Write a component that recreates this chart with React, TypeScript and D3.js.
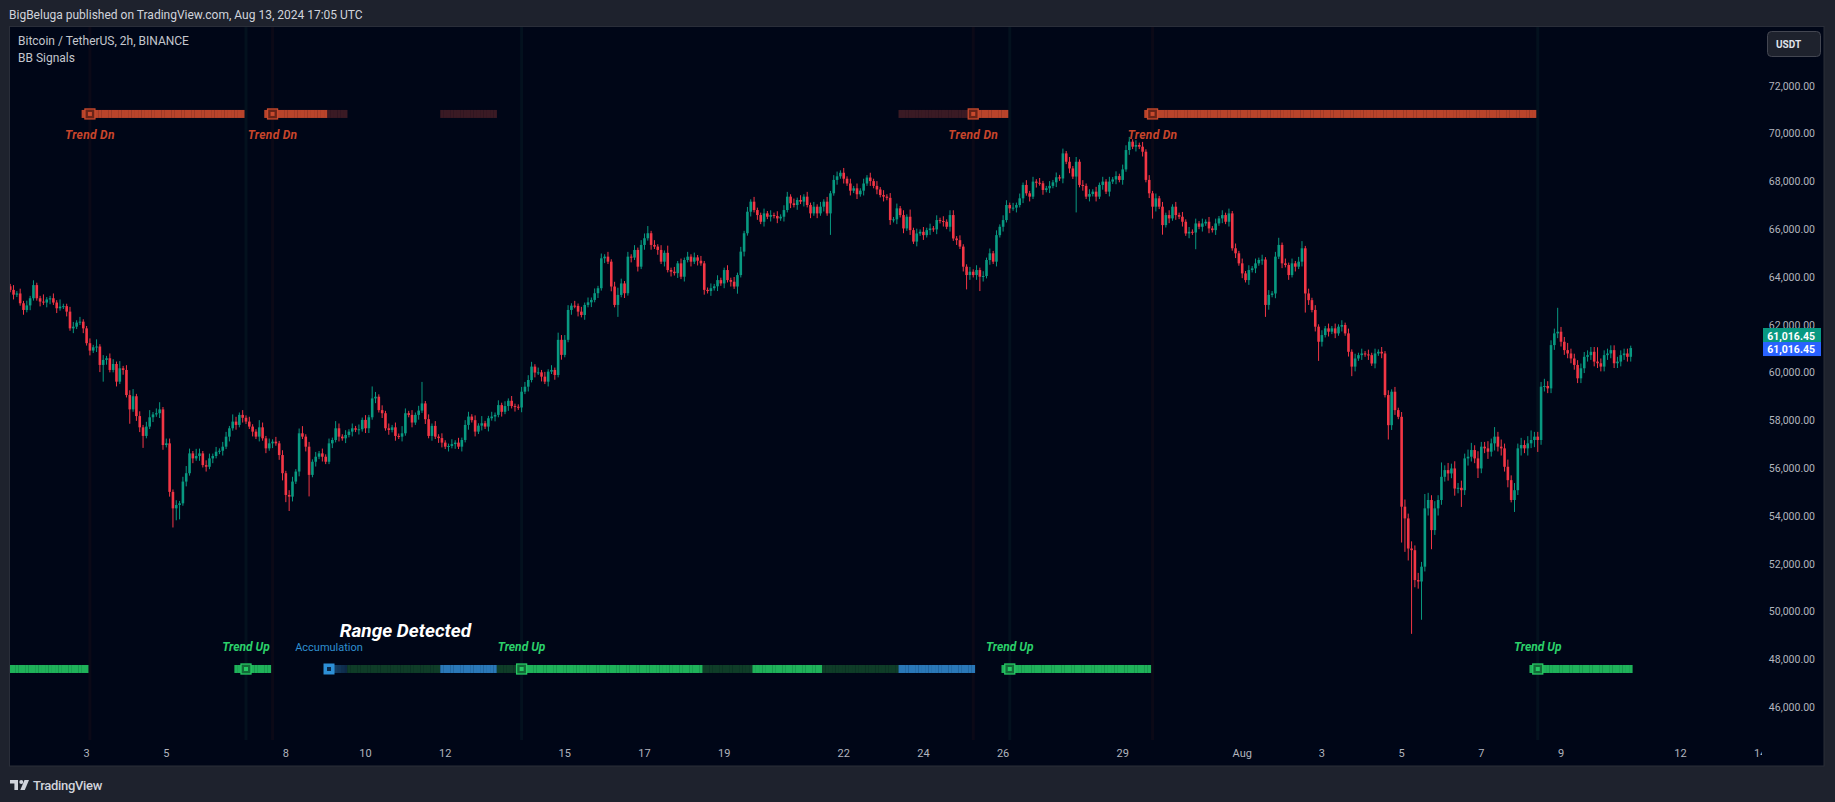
import React from "react";
import * as d3 from "d3";

// BTCUSDT 2h candles, Jul 1 02:00 UTC -> Aug 10 18:00 UTC (prices in thousands)
const firstOpen = 63.6;
const closes = [
  63.45, 63.25, 63.3, 62.89, 62.61, 62.8, 63.1, 63.65, 63.1, 62.96, 62.92, 63.05,
  63.1, 62.92, 62.68, 62.75, 62.77, 62.54, 61.84, 61.91, 62.08, 62.12, 61.84, 61.22,
  60.91, 61.05, 61.08, 60.31, 60.52, 60.59, 60.1, 60.35, 59.61, 60.17, 60.1, 59.05,
  58.45, 59.0, 58.17, 57.7, 57.34, 57.73, 58.12, 58.24, 58.29, 58.45, 56.96, 57.03,
  55.0, 54.31, 54.45, 54.52, 55.43, 55.78, 56.61, 56.4, 56.5, 56.61, 56.12, 56.05,
  56.4, 56.5, 56.68, 56.72, 56.89, 57.31, 57.66, 57.94, 57.8, 58.22, 58.1, 57.94,
  57.73, 57.52, 57.31, 57.7, 57.24, 56.82, 57.03, 57.1, 57.03, 56.54, 55.78, 54.87,
  54.8, 55.43, 55.85, 57.45, 57.31, 56.89, 55.71, 56.26, 56.47, 56.61, 56.47, 56.26,
  57.03, 57.17, 57.66, 57.31, 57.24, 57.38, 57.52, 57.66, 57.6, 57.62, 58.01, 57.66,
  58.12, 58.91, 58.98, 58.42, 58.29, 57.66, 57.59, 57.7, 57.34, 57.31, 57.45, 58.29,
  58.22, 57.9, 58.22, 58.4, 58.7, 58.04, 57.34, 57.76, 57.31, 57.25, 57.06, 56.89,
  56.92, 57.0, 57.06, 56.89, 57.17, 57.8, 58.15, 58.0, 57.52, 57.77, 57.87, 57.73,
  58.08, 58.15, 58.22, 58.63, 58.35, 58.59, 58.81, 58.59, 58.56, 58.53, 59.19, 59.4,
  59.68, 60.24, 59.99, 60.0, 59.82, 59.61, 60.03, 60.1, 59.89, 61.36, 60.73, 61.36,
  62.61, 62.79, 62.78, 62.54, 62.4, 62.82, 62.93, 63.03, 63.31, 63.52, 64.77, 64.84,
  64.63, 63.59, 62.82, 63.24, 63.72, 63.31, 64.84, 64.8, 65.12, 64.42, 65.33, 65.61,
  65.82, 65.33, 65.26, 65.12, 64.63, 65.0, 64.28, 64.21, 64.15, 64.56, 64.0, 64.7,
  64.84, 64.63, 64.81, 64.67, 64.56, 63.45, 63.4, 63.52, 63.6, 63.86, 63.72, 64.28,
  63.86, 63.79, 63.59, 64.07, 65.05, 65.82, 66.72, 67.14, 66.79, 66.58, 66.3, 66.65,
  66.51, 66.58, 66.54, 66.44, 66.51, 66.79, 67.35, 67.07, 67.0, 67.21, 67.14, 67.35,
  67.0, 66.65, 66.93, 66.65, 66.93, 67.14, 66.65, 67.49, 68.05, 68.2, 68.35, 68.1,
  67.9, 67.6, 67.7, 67.45, 67.6, 67.9, 68.15, 68.0, 67.8, 67.65, 67.42, 67.35,
  67.3, 66.37, 66.4, 66.86, 66.58, 66.02, 66.51, 65.95, 65.47, 65.81, 65.88, 65.74,
  65.95, 66.02, 65.98, 66.37, 66.33, 66.3, 66.09, 66.58, 65.6, 65.53, 65.26, 64.42,
  64.07, 64.21, 64.07, 64.28, 64.0, 64.03, 64.7, 64.98, 64.63, 65.74, 66.09, 66.37,
  67.0, 66.86, 66.89, 67.0, 67.28, 67.84, 67.49, 67.35, 67.98, 67.93, 67.91, 67.63,
  67.7, 67.8, 67.95, 68.16, 68.11, 69.16, 68.81, 68.53, 68.19, 68.81, 67.84, 67.8,
  67.35, 67.46, 67.56, 67.35, 67.84, 67.98, 67.56, 67.98, 68.07, 68.21, 68.05, 68.49,
  69.3, 69.65, 69.44, 69.51, 69.44, 69.23, 68.05, 67.49, 66.93, 67.28, 66.93, 66.16,
  66.58, 66.44, 66.93, 66.58, 66.51, 66.3, 65.81, 65.88, 65.85, 66.23, 66.09, 66.23,
  66.3, 66.02, 65.95, 66.23, 66.44, 66.58, 66.3, 66.65, 65.19, 64.98, 64.56, 64.14,
  63.86, 64.28, 64.35, 64.56, 64.7, 64.72, 62.82, 63.24, 63.3, 64.84, 65.33, 64.56,
  64.49, 64.07, 64.56, 64.42, 64.63, 65.19, 63.3, 63.02, 62.61, 61.91, 61.28, 61.56,
  61.84, 61.7, 61.84, 61.63, 61.91, 61.98, 61.63, 60.86, 60.24, 60.58, 60.72, 60.79,
  60.75, 60.72, 60.37, 60.79, 60.86, 60.79, 59.05, 57.79, 59.19, 58.42, 58.14, 54.38,
  53.89, 52.63, 52.56, 51.31, 51.25, 51.87, 54.31, 54.66, 53.4, 54.31, 54.66, 55.63,
  55.91, 55.77, 55.98, 55.14, 55.17, 55.07, 56.4, 56.47, 56.75, 56.4, 55.98, 56.89,
  56.82, 56.68, 57.03, 57.31, 56.89, 56.82, 56.05, 55.49, 54.66, 55.07, 56.82, 56.96,
  56.82, 57.03, 57.17, 57.31, 57.17, 59.4, 59.43, 59.33, 61.14, 61.63, 61.7, 61.28,
  60.93, 60.79, 60.58, 60.31, 59.75, 60.17, 60.65, 60.72, 60.86, 60.45, 60.38, 60.24,
  60.72, 60.79, 60.93, 60.38, 60.45, 60.72, 60.79, 60.65, 61.01645,
];
// wick beyond the body, in hundreds of USDT
const wickHi = [
  1, 2, 1, 2, 1, 2, 1, 2, 1, 1, 3, 1,
  1, 2, 1, 3, 1, 1, 2, 2, 1, 2, 1, 1,
  2, 1, 3, 1, 2, 1, 2, 2, 1, 3, 1, 2,
  2, 3, 1, 2, 1, 2, 3, 1, 2, 3, 1, 2,
  2, 1, 2, 1, 2, 3, 2, 1, 3, 2, 1, 2,
  2, 1, 2, 1, 2, 2, 1, 3, 2, 1, 2, 1,
  2, 1, 1, 3, 2, 1, 2, 1, 2, 1, 2, 1,
  2, 2, 1, 2, 3, 1, 2, 1, 2, 1, 2, 1,
  2, 1, 3, 2, 1, 2, 1, 2, 1, 2, 1, 2,
  1, 5, 2, 1, 2, 1, 2, 1, 2, 1, 3, 2,
  1, 2, 1, 2, 9, 1, 2, 1, 2, 1, 2, 1,
  1, 2, 1, 2, 1, 2, 2, 1, 2, 1, 3, 1,
  1, 2, 1, 2, 1, 2, 1, 2, 1, 1, 2, 2,
  2, 2, 1, 2, 1, 2, 1, 2, 1, 3, 2, 2,
  2, 1, 2, 1, 2, 1, 2, 1, 2, 1, 2, 1,
  2, 1, 2, 3, 2, 1, 2, 1, 2, 1, 2, 2,
  3, 1, 2, 1, 2, 1, 3, 1, 2, 1, 2, 1,
  2, 1, 2, 1, 2, 1, 1, 2, 1, 2, 1, 1,
  2, 1, 2, 1, 2, 1, 2, 1, 2, 1, 1, 2,
  1, 2, 1, 2, 1, 2, 2, 1, 2, 1, 2, 1,
  2, 1, 2, 1, 2, 1, 2, 1, 2, 2, 1, 2,
  1, 2, 1, 2, 1, 2, 1, 2, 1, 2, 1, 2,
  1, 2, 1, 2, 1, 2, 1, 3, 1, 2, 1, 2,
  1, 2, 1, 2, 1, 2, 1, 2, 2, 1, 2, 1,
  1, 2, 1, 2, 1, 2, 1, 2, 1, 2, 1, 2,
  2, 1, 2, 1, 2, 1, 2, 1, 2, 1, 2, 1,
  1, 2, 1, 2, 1, 2, 1, 2, 1, 2, 1, 2,
  1, 2, 1, 2, 1, 2, 1, 2, 1, 2, 1, 2,
  2, 2, 1, 2, 1, 2, 1, 2, 1, 2, 1, 2,
  1, 2, 1, 2, 1, 2, 1, 2, 1, 2, 1, 2,
  1, 2, 1, 2, 1, 2, 1, 2, 1, 2, 1, 2,
  1, 2, 1, 2, 1, 2, 1, 2, 1, 2, 3, 1,
  2, 1, 2, 1, 2, 3, 1, 2, 1, 2, 1, 2,
  1, 2, 1, 2, 1, 2, 1, 2, 1, 2, 1, 2,
  1, 2, 1, 2, 1, 2, 1, 2, 1, 2, 1, 2,
  3, 2, 3, 2, 3, 2, 6, 3, 2, 3, 2, 6,
  2, 3, 2, 3, 2, 3, 2, 3, 3, 2, 3, 2,
  2, 3, 2, 4, 2, 3, 2, 3, 2, 3, 2, 3,
  2, 3, 4, 2, 2, 2, 3, 2, 2, 2, 10, 2,
  2, 3, 2, 2, 2, 2, 2, 2, 2, 2, 6, 2,
  2, 2, 2, 2, 2, 2, 2, 2, 1,
];
const wickLo = [
  1, 2, 1, 1, 2, 1, 2, 1, 1, 2, 1, 2,
  2, 1, 2, 1, 1, 2, 1, 2, 1, 1, 2, 1,
  2, 1, 2, 3, 7, 2, 1, 1, 2, 1, 2, 1,
  6, 1, 2, 2, 5, 1, 1, 2, 1, 2, 2, 1,
  2, 8, 5, 6, 1, 2, 1, 2, 1, 2, 1, 2,
  1, 2, 1, 1, 2, 1, 2, 1, 2, 1, 2, 1,
  1, 2, 1, 2, 1, 2, 1, 2, 1, 2, 3, 3,
  6, 2, 1, 2, 1, 2, 9, 1, 2, 1, 2, 1,
  1, 2, 1, 2, 1, 2, 1, 2, 1, 2, 1, 2,
  2, 1, 2, 1, 2, 1, 2, 1, 2, 1, 2, 1,
  1, 2, 1, 2, 1, 2, 1, 2, 1, 2, 2, 1,
  2, 1, 2, 1, 2, 1, 2, 1, 2, 1, 2, 1,
  2, 1, 2, 1, 2, 1, 2, 1, 2, 1, 2, 1,
  2, 1, 2, 1, 2, 1, 2, 1, 2, 1, 2, 1,
  1, 2, 1, 2, 1, 2, 1, 2, 1, 2, 1, 2,
  1, 2, 1, 5, 1, 2, 1, 2, 1, 2, 1, 2,
  1, 2, 1, 2, 1, 2, 1, 2, 1, 2, 1, 2,
  1, 2, 1, 2, 1, 2, 1, 2, 1, 2, 1, 2,
  1, 2, 1, 3, 1, 2, 1, 2, 1, 2, 1, 2,
  1, 2, 1, 2, 1, 2, 1, 2, 1, 2, 1, 2,
  1, 2, 1, 2, 1, 2, 1, 9, 1, 2, 1, 2,
  1, 2, 1, 2, 1, 2, 1, 2, 1, 2, 1, 2,
  1, 2, 1, 2, 1, 2, 1, 2, 1, 2, 1, 2,
  1, 2, 1, 2, 1, 2, 1, 2, 1, 2, 1, 2,
  6, 2, 1, 2, 6, 2, 1, 2, 1, 2, 1, 2,
  1, 2, 1, 2, 1, 2, 1, 2, 1, 2, 1, 2,
  1, 2, 1, 2, 1, 2, 1, 2, 1, 15, 1, 2,
  1, 2, 1, 2, 1, 2, 1, 2, 1, 2, 1, 2,
  1, 2, 1, 2, 1, 2, 1, 2, 5, 2, 1, 4,
  1, 2, 1, 2, 1, 2, 1, 2, 1, 7, 1, 2,
  1, 2, 1, 2, 1, 2, 1, 2, 1, 2, 1, 2,
  1, 2, 1, 2, 1, 2, 5, 2, 1, 2, 1, 2,
  1, 2, 1, 2, 1, 2, 8, 2, 1, 2, 8, 2,
  1, 2, 1, 2, 1, 2, 1, 2, 4, 2, 1, 2,
  1, 2, 1, 2, 1, 2, 1, 6, 2, 2, 1, 15,
  14, 5, 35, 3, 3, 16, 2, 3, 8, 2, 3, 2,
  2, 3, 2, 3, 2, 7, 2, 3, 2, 2, 4, 2,
  2, 3, 2, 3, 2, 3, 2, 3, 1, 5, 2, 3,
  2, 3, 2, 3, 5, 2, 2, 2, 2, 2, 2, 2,
  2, 2, 2, 2, 2, 2, 2, 2, 2, 2, 2, 2,
  2, 2, 2, 2, 2, 2, 2, 2, 2,
];

const priceTicks = [46000, 48000, 50000, 52000, 54000, 56000, 58000, 60000, 62000, 64000, 66000, 68000, 70000, 72000];
const tickDates = ["2024-07-03", "2024-07-05", "2024-07-08", "2024-07-10", "2024-07-12", "2024-07-15", "2024-07-17", "2024-07-19", "2024-07-22", "2024-07-24", "2024-07-26", "2024-07-29", "2024-08-01", "2024-08-03", "2024-08-05", "2024-08-07", "2024-08-09", "2024-08-12", "2024-08-14"];
const tickLabels = ["3", "5", "8", "10", "12", "15", "17", "19", "22", "24", "26", "29", "Aug", "3", "5", "7", "9", "12", "14"];

// BB Signals bands: [from candle, to candle, state]
const topLevel = 70810;
const bottomLevel = 47590;
const topSegments: [number, number, string][] = [
  [22, 70, "on"], [77, 95, "on"], [96, 101, "fade"], [130, 146, "fade"],
  [268, 289, "fade"], [290, 300, "on"], [342, 459, "on"],
];
const bottomSegments: [number, number, string][] = [
  [0, 23, "green"], [68, 78, "green"], [95, 101, "blueFade"], [102, 129, "fade"],
  [130, 146, "blue"], [147, 152, "fade"], [153, 208, "green"], [209, 223, "fade"],
  [224, 244, "green"], [245, 267, "fade"], [268, 290, "blue"], [299, 343, "green"],
  [458, 488, "green"],
];
const trendDnAt = [24, 79, 290, 344];
const trendUpAt = [71, 154, 301, 460];
const accumulationAt = 96;
const rangeLabelAt = 119;
const lastPrice = 61016.45;

const W = 1835;
const H = 802;
const PANE = { x: 9.5, y: 26.5, r: 1824, b: 766 };
const PLOT = { l: 10, r: 1762, t: 27, b: 740 };
const UP = "#089981";
const DOWN = "#f23645";
const FONT = "Roboto, 'Noto Sans', sans-serif";
const step = 3.32;

const segColor: Record<string, string> = {
  on: "#b9442b",
  fade: "#3a1a24",
  green: "#1fb25a",
  blue: "#2a78b8",
  blueFade: "#1f5a8a",
};
const bottomFade = "#0f3d28";

export default function App() {
  const t0 = Date.UTC(2024, 6, 1, 2);
  const x = d3.scaleUtc()
    .domain([new Date(Date.UTC(2024, 6, 3)), new Date(Date.UTC(2024, 7, 9))])
    .range([86.6, 1561]);
  const xi = (i: number) => x(new Date(t0 + i * 7200000));
  const y = d3.scaleLinear().domain([46000, 72000]).range([707, 85.5]);
  const fmt = d3.format(",.2f");

  const candles = closes.map((c, i) => {
    const o = (i === 0 ? firstOpen : closes[i - 1]) * 1000;
    const cl = c * 1000;
    const hi = Math.max(o, cl) + wickHi[i] * 100;
    const lo = Math.min(o, cl) - wickLo[i] * 100;
    return { i, o, c: cl, hi, lo };
  });

  const bandRects = (segs: [number, number, string][], level: number, key: string) =>
    segs.flatMap(([a, b, s], k) =>
      d3.range(a, b + 1).map((i) => {
        const fill = s === "fade" && key === "bottom" ? bottomFade : segColor[s];
        const op = s === "blueFade" ? 0.85 - ((i - a) / (b - a + 1)) * 0.5 : 1;
        return (
          <rect key={`${key}-${k}-${i}`} x={xi(i) - step / 2} y={y(level) - 4}
            width={step + 0.2} height={8} fill={fill} opacity={op} />
        );
      })
    );

  const marker = (i: number, level: number, color: string, inner: string, k: string) => (
    <g key={k}>
      <rect x={xi(i) - 5} y={y(level) - 5} width={10} height={10} fill={inner} stroke={color} strokeWidth={1.3} />
      <rect x={xi(i) - 2} y={y(level) - 2} width={4} height={4} fill={color} />
    </g>
  );

  return (
    <svg width={W} height={H} style={{ position: "absolute", left: 0, top: 0, display: "block" }}>
      <rect width={W} height={H} fill="#1e222d" />
      <text x={9} y={19} fontFamily={FONT} fontSize={12} fill="#d1d4dc">
        BigBeluga published on TradingView.com, Aug 13, 2024 17:05 UTC
      </text>
      <rect x={PANE.x} y={PANE.y} width={PANE.r - PANE.x} height={PANE.b - PANE.y} fill="#000617" stroke="#2a2e39" />
      <defs>
        <clipPath id="plot">
          <rect x={PLOT.l} y={PLOT.t} width={PLOT.r - PLOT.l} height={PLOT.b - PLOT.t} />
        </clipPath>
        <clipPath id="taxis">
          <rect x={PLOT.l} y={PLOT.b} width={PLOT.r - PLOT.l} height={PANE.b - PLOT.b} />
        </clipPath>
      </defs>

      <g clipPath="url(#plot)">
        {trendDnAt.map((i) => (
          <rect key={`vd${i}`} x={xi(i) - 1.5} y={PLOT.t} width={3} height={PLOT.b - PLOT.t} fill="#b4402a" opacity={0.06} />
        ))}
        {trendUpAt.map((i) => (
          <rect key={`vu${i}`} x={xi(i) - 1.5} y={PLOT.t} width={3} height={PLOT.b - PLOT.t} fill="#2aa87a" opacity={0.07} />
        ))}

        {bandRects(topSegments, topLevel, "top")}
        {bandRects(bottomSegments, bottomLevel, "bottom")}

        {candles.map((d) => {
          const col = d.c >= d.o ? UP : DOWN;
          const cx = xi(d.i);
          const top = y(Math.max(d.o, d.c));
          const h = Math.max(1, y(Math.min(d.o, d.c)) - top);
          return (
            <g key={d.i}>
              <line x1={cx} x2={cx} y1={y(d.hi)} y2={y(d.lo)} stroke={col} strokeWidth={1} />
              <rect x={cx - 1.3} y={top} width={2.6} height={h} fill={col} />
            </g>
          );
        })}

        {trendDnAt.map((i) => marker(i, topLevel, "#c94a2e", "#6a2418", `md${i}`))}
        {trendUpAt.map((i) => marker(i, bottomLevel, "#27c964", "#126b38", `mu${i}`))}
        <rect x={xi(accumulationAt) - 5.5} y={y(bottomLevel) - 5.5} width={11} height={11} fill="#2d8fd6" />
        <rect x={xi(accumulationAt) - 2} y={y(bottomLevel) - 2} width={4} height={4} fill="#0b2a4a" />

        {trendDnAt.map((i) => (
          <text key={`ld${i}`} x={xi(i)} y={y(topLevel) + 25} textAnchor="middle" fontFamily={FONT}
            fontSize={12} fontWeight="bold" fontStyle="italic" fill="#c8452b" letterSpacing={0.3}>Trend Dn</text>
        ))}
        {trendUpAt.map((i) => (
          <text key={`lu${i}`} x={xi(i)} y={y(bottomLevel) - 18} textAnchor="middle" fontFamily={FONT}
            fontSize={12} fontWeight="bold" fontStyle="italic" fill="#2bd06a">Trend Up</text>
        ))}
        <text x={xi(accumulationAt)} y={y(bottomLevel) - 18} textAnchor="middle" fontFamily={FONT}
          fontSize={11} fill="#2f8fd0">Accumulation</text>
        <text x={xi(rangeLabelAt)} y={y(bottomLevel) - 32} textAnchor="middle" fontFamily={FONT}
          fontSize={19} fontWeight="bold" fontStyle="italic" fill="#ffffff">Range Detected</text>
      </g>

      <text x={18} y={45} fontFamily={FONT} fontSize={12} fill="#c4c7ce">Bitcoin / TetherUS, 2h, BINANCE</text>
      <text x={18} y={62} fontFamily={FONT} fontSize={12} fill="#c4c7ce">BB Signals</text>

      {priceTicks.map((p) => (
        <text key={p} x={1815} y={y(p) + 4} textAnchor="end" fontFamily={FONT} fontSize={10.5} fill="#b2b5be">
          {fmt(p)}
        </text>
      ))}

      <rect x={1763} y={328} width={58} height={15} fill={UP} />
      <text x={1815} y={339.5} textAnchor="end" fontFamily={FONT} fontSize={10.5} fontWeight="bold" fill="#ffffff">{fmt(lastPrice)}</text>
      <rect x={1763} y={y(lastPrice) - 6} width={58} height={14} fill="#2962ff" />
      <text x={1815} y={y(lastPrice) + 5} textAnchor="end" fontFamily={FONT} fontSize={10.5} fontWeight="bold" fill="#ffffff">{fmt(lastPrice)}</text>

      <rect x={1767.5} y={31.5} width={53} height={25} rx={4} fill="#1e222d" stroke="#434651" />
      <text x={1776} y={48} fontFamily={FONT} fontSize={10} fontWeight="bold" fill="#e0e3eb">USDT</text>

      <g clipPath="url(#taxis)">
        {tickDates.map((d, k) => (
          <text key={d} x={x(new Date(d + "T00:00:00Z"))} y={757} textAnchor="middle" fontFamily={FONT}
            fontSize={11} fill="#b2b5be">{tickLabels[k]}</text>
        ))}
      </g>

      <g fill="#d1d4dc">
        <path d="M10 780 h8 v10 h-3.6 v-6.4 h-4.4 z" />
        <circle cx={21.3} cy={782} r={2} />
        <path d="M24.5 780 h4.5 l-4.2 10 h-4.5 z" />
      </g>
      <text x={33} y={790} fontFamily={FONT} fontSize={13} fontWeight="500" fill="#d1d4dc" letterSpacing={-0.3}>TradingView</text>
    </svg>
  );
}
